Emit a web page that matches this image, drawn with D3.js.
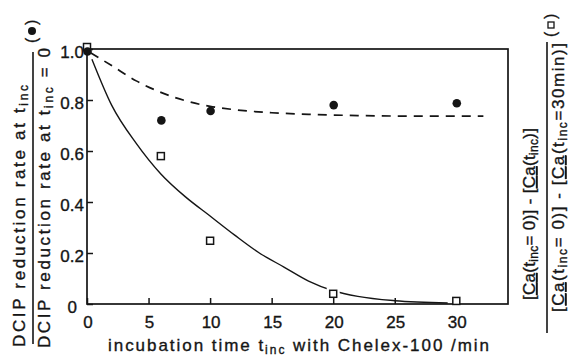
<!DOCTYPE html>
<html>
<head>
<meta charset="utf-8">
<script src="https://cdn.jsdelivr.net/npm/d3@7"></script>
<style>
  body { margin: 0; background: #fff; }
  svg { display: block; font-family: "Liberation Sans", Arial, sans-serif; }
  text { stroke: #151515; stroke-width: 0.35; }
</style>
</head>
<body>
<script>
// tick values and labels
const xTicks = [0, 5, 10, 15, 20, 25, 30];
const yTicks = [0, 0.2, 0.4, 0.6, 0.8, 1.0];
const yTickLabels = ["0", "0.2", "0.4", "0.6", "0.8", "1.0"];

// measured points
const tInc = [0, 6, 10, 20, 30];
const dcipRate = [0.99, 0.72, 0.757, 0.78, 0.787];   // filled circles
const caRatio = [1.0, 0.58, 0.248, 0.04, 0.012];     // open squares

// fitted curves
const solidT = [0.4, 2, 4, 6, 8, 10, 12, 14, 16, 18, 20, 22, 25, 29.3];
const solidV = [0.96, 0.78, 0.63, 0.51, 0.42, 0.345, 0.27, 0.2, 0.145, 0.09, 0.052, 0.03, 0.013, 0.004];
const dashT = [0.3, 2, 4, 6, 8, 10, 12, 15, 18, 22, 26, 32.2];
const dashV = [0.985, 0.935, 0.875, 0.83, 0.797, 0.775, 0.762, 0.75, 0.744, 0.739, 0.737, 0.737];

const W = 574, H = 358;
const ink = "#151515";

const svg = d3.select("body").append("svg")
  .attr("width", W)
  .attr("height", H);

const x = d3.scaleLinear().domain([0, 34.2]).range([87, 508]);
const y = d3.scaleLinear().domain([0, 1]).range([304, 49]);

const line = d3.line()
  .x(d => x(d[0]))
  .y(d => y(d[1]))
  .curve(d3.curveMonotoneX);

// curves
svg.append("path")
  .datum(d3.zip(solidT, solidV))
  .attr("d", line)
  .attr("fill", "none")
  .attr("stroke", ink)
  .attr("stroke-width", 1.4);

svg.append("path")
  .datum(d3.zip(dashT, dashV))
  .attr("d", line)
  .attr("fill", "none")
  .attr("stroke", ink)
  .attr("stroke-width", 1.7)
  .attr("stroke-dasharray", "9,7");

// white halo behind squares (curve is interrupted there)
const sq = 7;
svg.append("g").selectAll("rect")
  .data(d3.zip(tInc, caRatio).slice(1))
  .join("rect")
  .attr("x", d => x(d[0]) - sq / 2 - 3)
  .attr("y", d => y(d[1]) - sq / 2 - 3)
  .attr("width", sq + 6)
  .attr("height", sq + 6)
  .attr("fill", "#fff");

// axes, ticks pointing inward
const xAxis = svg.append("g")
  .attr("transform", `translate(0,${y(0)})`)
  .call(d3.axisBottom(x).tickValues(xTicks).tickSizeInner(-6).tickSizeOuter(0).tickFormat(""));
const yAxis = svg.append("g")
  .attr("transform", `translate(${x(0)},0)`)
  .call(d3.axisLeft(y).tickValues(yTicks).tickSizeInner(-6).tickSizeOuter(0).tickFormat(""));
[xAxis, yAxis].forEach(g => {
  g.select(".domain").remove();
  g.selectAll(".tick line").attr("stroke", ink).attr("stroke-width", 1.5);
});

// frame
svg.append("rect")
  .attr("x", x(0))
  .attr("y", y(1))
  .attr("width", x(34.2) - x(0))
  .attr("height", y(0) - y(1))
  .attr("fill", "none")
  .attr("stroke", ink)
  .attr("stroke-width", 1.7);

// tick labels
svg.append("g").selectAll("text")
  .data(xTicks)
  .join("text")
  .attr("x", d => x(d) + 1)
  .attr("y", 328)
  .attr("text-anchor", "middle")
  .attr("font-size", 17)
  .attr("fill", ink)
  .text(d => d);

svg.append("g").selectAll("text")
  .data(yTicks)
  .join("text")
  .attr("x", d => d === 0 ? 77 : 84)
  .attr("y", d => y(d) + 8.5)
  .attr("text-anchor", "end")
  .attr("font-size", 17)
  .attr("fill", ink)
  .text((d, i) => yTickLabels[i]);

// markers
svg.append("g").selectAll("rect")
  .data(d3.zip(tInc, caRatio))
  .join("rect")
  .attr("x", d => x(d[0]) - sq / 2)
  .attr("y", d => y(d[1]) - sq / 2 - (d[0] === 0 ? 2 : 0))
  .attr("width", sq)
  .attr("height", sq)
  .attr("fill", "#fff")
  .attr("stroke", ink)
  .attr("stroke-width", 1.5);

svg.append("g").selectAll("circle")
  .data(d3.zip(tInc, dcipRate))
  .join("circle")
  .attr("cx", d => x(d[0]) + 0.5)
  .attr("cy", d => y(d[1]))
  .attr("r", 4.3)
  .attr("fill", ink);

// x axis title
const xt = svg.append("text")
  .attr("x", 108)
  .attr("y", 351)
  .attr("font-size", 17)
  .attr("fill", ink)
  .attr("textLength", 381)
  .attr("lengthAdjust", "spacing");
xt.append("tspan").text("incubation  time  t");
xt.append("tspan").attr("font-size", 12).attr("dy", 3).text("inc");
xt.append("tspan").attr("dy", -3).text(" with  Chelex-100 /min");

// helper for rotated text with subscripts
function rotText(tx, ty, len, parts) {
  const t = svg.append("text")
    .attr("transform", `translate(${tx},${ty}) rotate(-90)`)
    .attr("font-size", 17)
    .attr("fill", ink)
    .attr("textLength", len)
    .attr("lengthAdjust", "spacing");
  let shift = 0;
  parts.forEach(p => {
    const s = t.append("tspan").text(p.t);
    if (p.sub) {
      s.attr("font-size", 12).attr("dy", 3 - shift);
      shift = 3;
    } else if (shift) {
      s.attr("dy", -shift);
      shift = 0;
    }
    if (p.u) s.attr("text-decoration", "underline");
  });
  return t;
}

// left title
rotText(25, 347, 262, [{ t: "DCIP reduction rate at  t" }, { t: "inc", sub: true }]);
rotText(50, 348, 300, [{ t: "DCIP reduction rate at  t" }, { t: "inc", sub: true }, { t: " = 0" }]);
svg.append("line")
  .attr("x1", 33).attr("x2", 33)
  .attr("y1", 52).attr("y2", 344)
  .attr("stroke", ink).attr("stroke-width", 1.6);
svg.append("text")
  .attr("transform", "translate(37,43) rotate(-90)")
  .attr("font-size", 16)
  .attr("fill", ink)
  .text("(");
svg.append("text")
  .attr("transform", "translate(37,25) rotate(-90)")
  .attr("font-size", 16)
  .attr("fill", ink)
  .text(")");
svg.append("circle").attr("cx", 32).attr("cy", 31).attr("r", 4).attr("fill", ink);

// right title
rotText(535, 300, 172, [
  { t: "[" }, { t: "Ca", u: true }, { t: "(t" }, { t: "inc", sub: true }, { t: "= 0)] - [" },
  { t: "Ca", u: true }, { t: "(t" }, { t: "inc", sub: true }, { t: ")]" }
]);
rotText(564, 312, 269, [
  { t: "[" }, { t: "Ca", u: true }, { t: "(t" }, { t: "inc", sub: true }, { t: "= 0)] - [" },
  { t: "Ca", u: true }, { t: "(t" }, { t: "inc", sub: true }, { t: "=30min)]" }
]);
svg.append("line")
  .attr("x1", 547).attr("x2", 547)
  .attr("y1", 42).attr("y2", 333)
  .attr("stroke", ink).attr("stroke-width", 1.6);
svg.append("text")
  .attr("transform", "translate(556,37) rotate(-90)")
  .attr("font-size", 16)
  .attr("fill", ink)
  .text("(");
svg.append("text")
  .attr("transform", "translate(556,19) rotate(-90)")
  .attr("font-size", 16)
  .attr("fill", ink)
  .text(")");
svg.append("rect")
  .attr("x", 548).attr("y", 22).attr("width", 6).attr("height", 6)
  .attr("fill", "#fff").attr("stroke", ink).attr("stroke-width", 1.3);
</script>
</body>
</html>
